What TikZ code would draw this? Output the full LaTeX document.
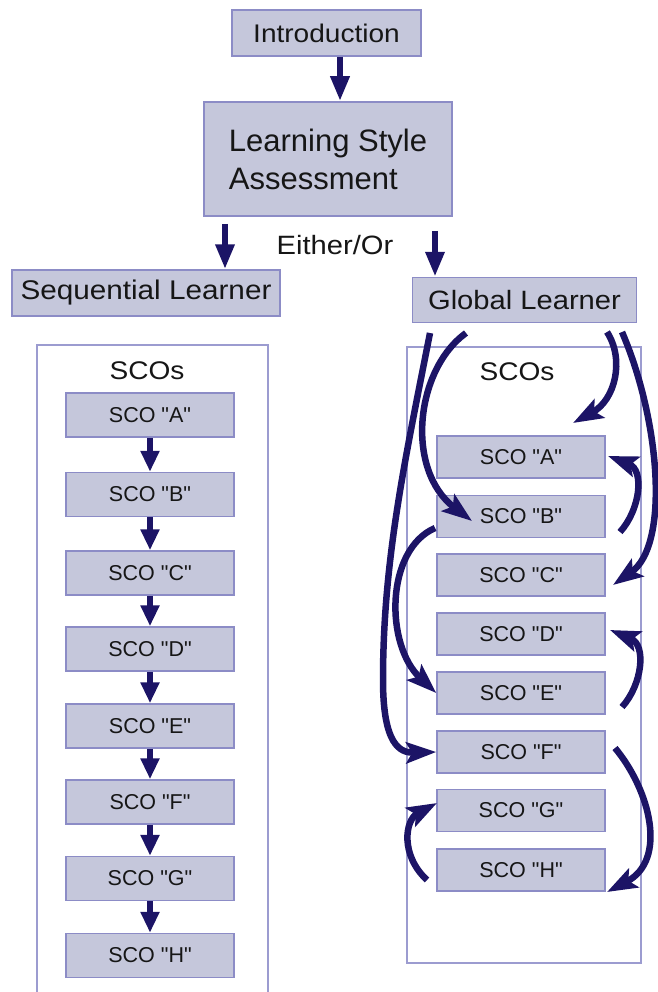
\documentclass[tikz,border=0pt]{standalone}
\usepackage{fontspec}
\setmainfont{Liberation Sans}
\newfontfamily\widefont[FakeStretch=1.1]{Liberation Sans}
\usetikzlibrary{arrows.meta}
\definecolor{boxfill}{HTML}{C5C7DB}
\definecolor{boxline}{HTML}{8C8CC6}
\definecolor{frameline}{HTML}{9C9CD0}
\definecolor{navy}{HTML}{1C1466}
\definecolor{txt}{HTML}{161616}
\newcommand{\qq}[1]{\textquotedbl #1\textquotedbl}
\begin{document}
\begin{tikzpicture}[x=1pt,y=-1pt,
  box/.style={draw=boxline, line width=1.5pt, fill=boxfill, inner sep=0pt, text=txt},
  sco/.style={box, minimum width=168pt, minimum height=43pt, font=\fontsize{21.5}{24}\selectfont},
  frame/.style={draw=frameline, line width=1.2pt},
  lbl/.style={text=txt, inner sep=0pt},
  sarrow/.style={draw=navy, line width=6.5pt, -{Triangle[length=25pt,width=18pt]}},
  smallarrow/.style={draw=navy, line width=6pt, -{Triangle[length=21pt,width=18pt]}},
  carrow/.style={draw=navy, line width=6.5pt, -{Stealth[length=30pt,width=21pt,inset=6pt]}},
]
\useasboundingbox (0,0) rectangle (657,992);

% top nodes
\node[box, minimum width=189pt, minimum height=46pt, font=\widefont\fontsize{25.5}{30}\selectfont] (intro) at (326.5,33) {Introduction};
\node[box, minimum width=248pt, minimum height=114pt, align=left, font=\fontsize{31}{38}\selectfont] (lsa) at (328,159) {Learning Style\\Assessment};
\node[box, minimum width=268pt, minimum height=46pt, font=\widefont\fontsize{27}{30}\selectfont] (seq) at (146,293) {Sequential Learner};
\node[box, minimum width=224pt, minimum height=45pt, font=\widefont\fontsize{26.5}{30}\selectfont] (glob) at (524.5,300) {Global Learner};
\node[lbl, font=\widefont\fontsize{26.5}{30}\selectfont] (either) at (335,245) {Either/Or};

\coordinate (lsaL) at (225,224);
\coordinate (lsaR) at (435,231);
\draw[sarrow] (intro.south -| 340,0) -- (lsa.north -| 340,0);
\draw[sarrow] (lsaL) -- (lsaL |- seq.north);
\draw[sarrow] (lsaR) -- (lsaR |- glob.north);

% frames
\draw[frame] (37,1000) -- (37,345) -- (268,345) -- (268,1000);
\draw[frame] (407,347) rectangle (641,963);
\node[lbl, font=\widefont\fontsize{25.5}{30}\selectfont] (lscos) at (147,371) {SCOs};
\node[lbl, font=\widefont\fontsize{25.5}{30}\selectfont] (rscos) at (517,372) {SCOs};

% left SCOs
\node[sco, minimum height=44pt] (lA) at (150,415) {SCO \qq{A}};
\node[sco, minimum height=44pt] (lB) at (150,494.5) {SCO \qq{B}};
\node[sco, minimum height=44pt] (lC) at (150,573) {SCO \qq{C}};
\node[sco, minimum height=44pt] (lD) at (150,649) {SCO \qq{D}};
\node[sco, minimum height=44pt] (lE) at (150,726) {SCO \qq{E}};
\node[sco, minimum height=44pt] (lF) at (150,802) {SCO \qq{F}};
\node[sco, minimum height=44pt] (lG) at (150,878.5) {SCO \qq{G}};
\node[sco, minimum height=44pt] (lH) at (150,955.5) {SCO \qq{H}};
\foreach \a/\b in {lA/lB,lB/lC,lC/lD,lD/lE,lE/lF,lF/lG,lG/lH}
  \draw[smallarrow] (\a.south) -- (\b.north);

% right SCOs
\node[sco, minimum height=42pt] (rA) at (521,457) {SCO \qq{A}};
\node[sco, minimum height=42pt] (rB) at (521,516.5) {SCO \qq{B}};
\node[sco, minimum height=42pt] (rC) at (521,575) {SCO \qq{C}};
\node[sco, minimum height=42pt] (rD) at (521,634) {SCO \qq{D}};
\node[sco, minimum height=42pt] (rE) at (521,693) {SCO \qq{E}};
\node[sco, minimum height=42pt] (rF) at (521,752) {SCO \qq{F}};
\node[sco, minimum height=42pt] (rG) at (521,810.5) {SCO \qq{G}};
\node[sco, minimum height=42pt] (rH) at (521,870) {SCO \qq{H}};

% curved connectors
\coordinate (g1) at (430,333);
\coordinate (g2) at (466,333);
\coordinate (g3) at (607,332);
\coordinate (g4) at (622,332);
\coordinate (tB) at (472,521);
\coordinate (tA) at (608,456);
\coordinate (tC) at (613,585);
\coordinate (tAtop) at (573,423);
\coordinate (bE) at (435,528);
\coordinate (bA) at (620,532);
\coordinate (eD) at (622,707);
\coordinate (tD) at (610,630);
\coordinate (fH) at (615,748);
\coordinate (tH) at (607,892);
\coordinate (hG) at (427,880);
\coordinate (tG) at (437,803);

\draw[carrow] (g1) .. controls (405,460) and (383,560) .. (383,680)
   .. controls (383,745) and (400,753) .. (rF.west);
\draw[carrow] (g2) .. controls (415,370) and (405,470) .. (tB);
\draw[carrow] (g3) .. controls (625,360) and (615,400) .. (tAtop);
\draw[carrow] (g4) .. controls (660,420) and (670,545) .. (tC);
\draw[carrow] (bE) .. controls (385,550) and (385,645) .. (rE.west);
\draw[carrow] (bA) .. controls (640,510) and (645,470) .. (tA);
\draw[carrow] (eD) .. controls (642,685) and (647,645) .. (tD);
\draw[carrow] (fH) .. controls (650,790) and (668,860) .. (tH);
\draw[carrow] (hG) .. controls (400,855) and (405,820) .. (tG);
\end{tikzpicture}
\end{document}
